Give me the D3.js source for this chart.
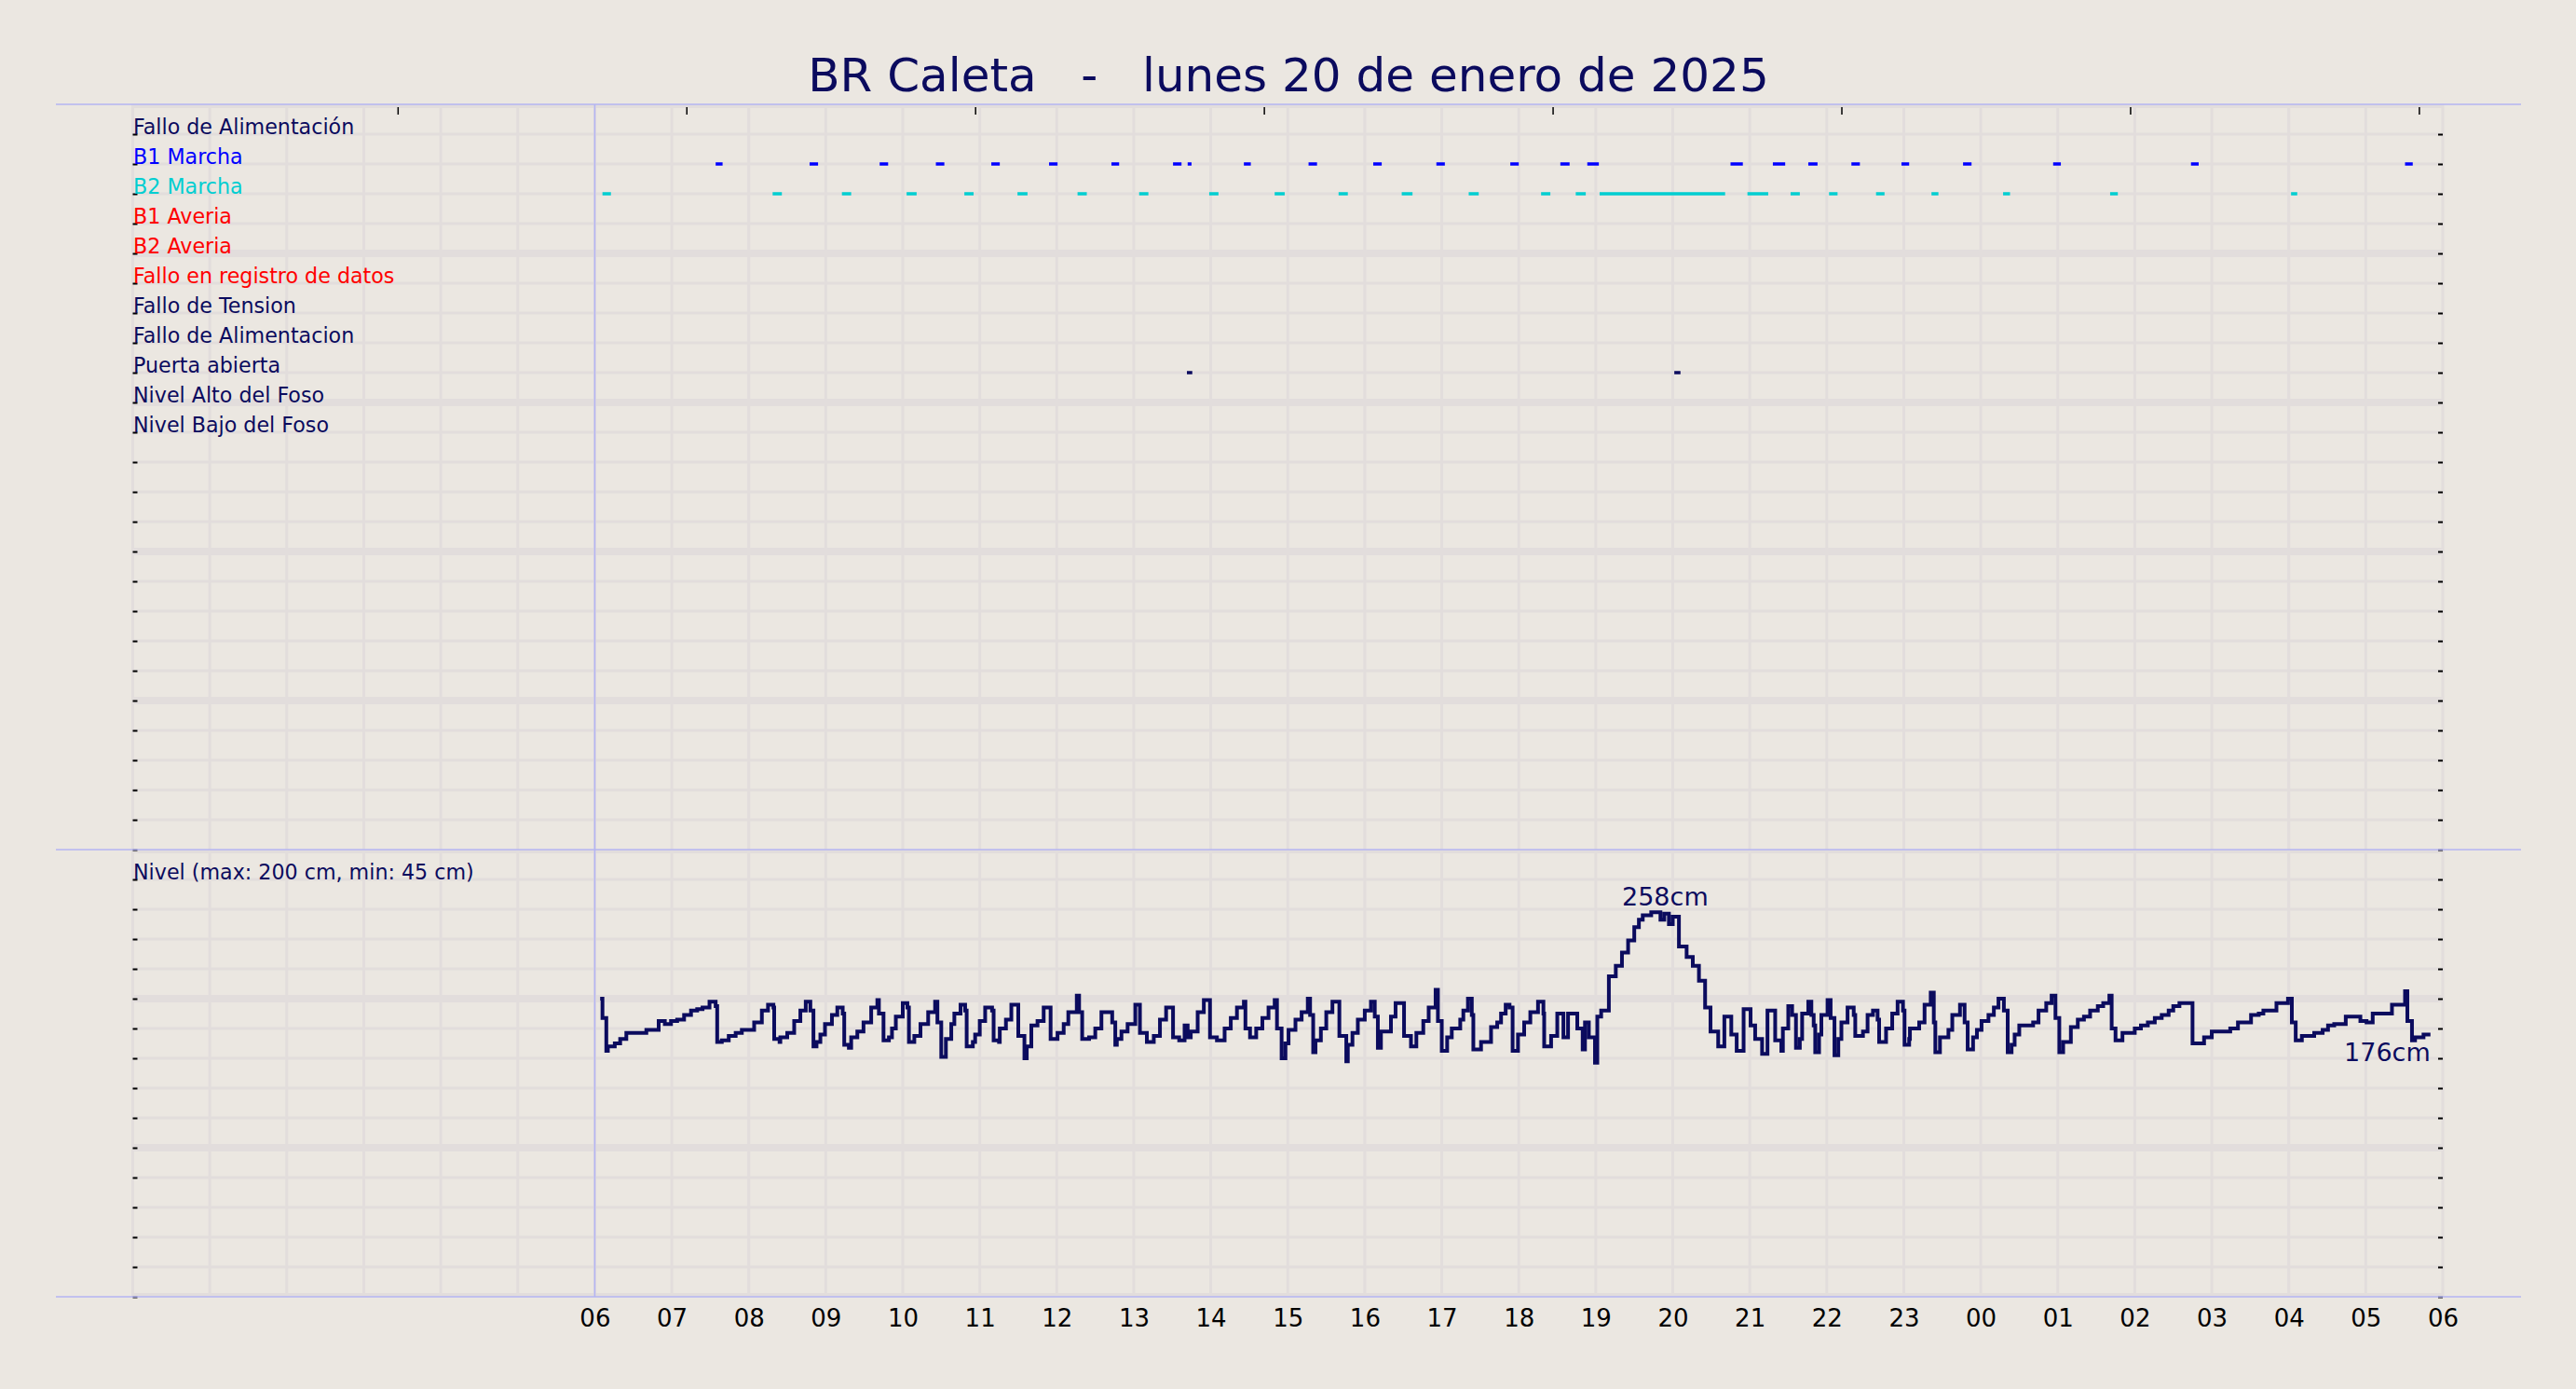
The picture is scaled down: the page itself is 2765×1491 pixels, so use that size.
<!DOCTYPE html>
<html><head><meta charset="utf-8">
<script src="https://cdn.jsdelivr.net/npm/d3@7"></script>
<style>
html,body{margin:0;padding:0;background:#ebe7e1;}
svg{display:block;font-family:"DejaVu Sans",sans-serif;}
</style></head><body>
<svg id="chart" width="2765" height="1491"></svg>
<script>
// ---------------- DATA ----------------
const chartTitle = "BR Caleta   -   lunes 20 de enero de 2025";
const rowLabels = ["Fallo de Alimentación","B1 Marcha","B2 Marcha","B1 Averia","B2 Averia",
  "Fallo en registro de datos","Fallo de Tension","Fallo de Alimentacion","Puerta abierta",
  "Nivel Alto del Foso","Nivel Bajo del Foso"];
const rowColors = ["#0b0b5e","#0000ff","#00ced1","#ff0000","#ff0000","#ff0000",
  "#0b0b5e","#0b0b5e","#0b0b5e","#0b0b5e","#0b0b5e"];
const hourTicks = d3.range(6, 31);
const hourLabels = ["06","07","08","09","10","11","12","13","14","15","16","17","18","19","20",
  "21","22","23","00","01","02","03","04","05","06"];
const topTickHours = [3.44,7.19,10.94,14.69,18.44,22.19,25.94,29.69];
// events: [start, end] in hours since 00:00 of 20/01/2025
const b1Marcha = [[7.57,7.66],[8.79,8.90],[9.70,9.81],[10.43,10.54],[11.15,11.26],[11.90,12.01],
  [12.71,12.81],[13.51,13.62],[13.70,13.75],[14.43,14.52],[15.27,15.38],[16.11,16.22],[16.93,17.04],
  [17.89,18.00],[18.54,18.66],[18.89,19.04],[20.75,20.91],[21.30,21.46],[21.76,21.88],[22.32,22.43],
  [22.97,23.07],[23.77,23.88],[24.94,25.04],[26.73,26.83],[29.51,29.61]];
const b2Marcha = [[6.10,6.21],[8.31,8.43],[9.21,9.33],[10.05,10.18],[10.80,10.92],[11.49,11.62],
  [12.27,12.39],[13.07,13.19],[13.98,14.10],[14.83,14.96],[15.66,15.78],[16.48,16.62],[17.35,17.48],
  [18.29,18.41],[18.74,18.87],[19.05,20.68],[20.97,21.24],[21.53,21.65],[22.03,22.14],[22.64,22.75],
  [23.36,23.45],[24.29,24.38],[25.68,25.78],[28.03,28.11]];
const puertaAbierta = [[13.69,13.76],[20.02,20.10]];
const nivelLabel = "Nivel (max: 200 cm, min: 45 cm)";
const levelHours = [6.07,6.10,6.15,6.17,6.26,6.33,6.41,6.67,6.83,6.91,6.99,7.07,7.16,7.25,7.33,7.40,7.49,7.57,7.59,7.65,
 7.74,7.83,7.91,8.07,8.17,8.25,8.32,8.33,8.40,8.41,8.50,8.59,8.67,8.74,8.80,8.84,8.88,8.93,8.99,9.08,
 9.15,9.22,9.24,9.30,9.33,9.41,9.49,9.59,9.67,9.69,9.75,9.82,9.86,9.91,10.00,10.06,10.08,10.15,10.23,10.33,
 10.42,10.45,10.50,10.56,10.63,10.67,10.75,10.81,10.83,10.91,10.94,11.00,11.07,11.16,11.18,11.25,11.26,11.34,11.41,11.50,
 11.58,11.61,11.67,11.75,11.83,11.92,12.01,12.09,12.15,12.26,12.29,12.33,12.42,12.50,12.58,12.72,12.76,12.78,12.84,12.92,
 13.02,13.08,13.17,13.26,13.34,13.42,13.51,13.59,13.66,13.70,13.74,13.83,13.91,13.99,14.08,14.18,14.26,14.34,14.43,14.45,
 14.51,14.59,14.67,14.75,14.83,14.86,14.92,14.97,15.01,15.10,15.18,15.26,15.29,15.33,15.36,15.43,15.50,15.58,15.67,15.76,
 15.78,15.84,15.91,16.00,16.08,16.13,16.17,16.21,16.34,16.40,16.51,16.60,16.67,16.76,16.83,16.92,16.95,17.00,17.07,17.13,
 17.24,17.28,17.34,17.39,17.41,17.51,17.64,17.72,17.77,17.83,17.88,17.92,17.99,18.07,18.15,18.25,18.32,18.33,18.42,18.50,
 18.58,18.64,18.76,18.83,18.86,18.91,18.99,19.02,19.07,19.17,19.26,19.34,19.42,19.50,19.56,19.61,19.72,19.84,19.89,19.95,
 20.00,20.08,20.18,20.26,20.34,20.42,20.49,20.59,20.67,20.76,20.83,20.92,21.01,21.07,21.16,21.23,21.33,21.41,21.43,21.50,
 21.55,21.60,21.65,21.68,21.76,21.80,21.83,21.85,21.90,21.93,22.01,22.05,22.10,22.15,22.19,22.27,22.35,22.37,22.47,22.53,
 22.60,22.66,22.68,22.77,22.85,22.92,22.99,23.01,23.07,23.08,23.20,23.27,23.35,23.39,23.41,23.47,23.58,23.63,23.73,23.79,
 23.83,23.90,23.95,24.01,24.10,24.17,24.23,24.30,24.35,24.40,24.44,24.50,24.68,24.75,24.85,24.92,24.97,25.02,25.07,25.17,
 25.26,25.34,25.42,25.52,25.59,25.67,25.70,25.75,25.84,26.00,26.08,26.17,26.26,26.35,26.44,26.50,26.58,26.75,26.90,27.00,
 27.24,27.34,27.51,27.61,27.67,27.84,27.99,28.04,28.09,28.17,28.33,28.44,28.51,28.59,28.74,28.93,29.01,29.09,29.34,29.51,
 29.54,29.60,29.64,29.75,29.84];
const levelCm = [200,187,165,168,170,173,177,179,185,183,185,186,189,192,193,194,198,195,171,172,
 175,177,179,184,192,196,194,173,171,174,177,185,192,198,192,168,171,176,183,189,
 194,190,169,167,174,178,184,194,199,190,172,174,180,188,197,194,171,175,183,191,
 198,184,161,173,183,190,196,192,168,171,176,185,194,192,172,171,180,186,196,175,
 160,168,182,185,194,173,177,183,191,202,191,173,174,180,191,184,169,173,178,183,
 196,177,171,175,186,194,174,172,182,174,178,191,199,174,172,180,187,194,198,180,
 174,180,187,194,199,180,160,170,179,186,191,200,189,164,172,180,191,198,175,158,
 169,177,186,192,198,188,167,178,188,197,175,168,177,185,194,206,185,165,174,180,
 186,192,200,189,166,171,181,184,190,196,194,165,176,184,191,198,190,168,175,190,
 174,190,180,166,184,174,157,188,192,215,222,231,239,248,253,256,258,253,257,250,
 255,235,228,222,212,194,178,168,188,176,165,193,182,173,163,192,172,165,180,195,
 189,167,173,190,198,189,182,164,176,189,199,187,162,173,184,194,189,175,178,189,
 192,186,171,180,190,198,192,169,173,180,184,196,204,184,164,174,179,189,196,184,
 166,174,179,185,189,194,200,192,164,169,176,182,184,192,197,202,187,164,171,181,
 186,188,192,195,197,202,180,172,177,180,182,184,187,189,192,195,197,170,174,178,
 180,184,189,190,192,197,200,184,172,175,177,179,182,183,188,185,184,190,196,205,
 185,172,174,176,176];

// ---------------- LAYOUT ----------------
const W = 2765, H = 1491;
const BG = "#ebe7e1", GRID = "#e2dddc", EDGE = "#b4b4f2", NAVY = "#0b0b5e";
const svg = d3.select("#chart");
svg.append("rect").attr("width", W).attr("height", H).attr("fill", BG);

const x = d3.scaleLinear().domain([0, 30]).range([142.5, 2622]);
const yRow = d3.scaleLinear().domain([0, 25]).range([112, 912]);
const yLev = d3.scaleLinear().domain([0, 300]).range([1392, 912]);

const defs = svg.append("defs");
defs.append("clipPath").attr("id", "clipTop").append("rect")
  .attr("x", x(0) - 2).attr("y", yRow(0)).attr("width", x(30) - x(0) + 4).attr("height", yRow(25) - yRow(0));
defs.append("clipPath").attr("id", "clipBot").append("rect")
  .attr("x", x(0) - 2).attr("y", yLev(300)).attr("width", x(30) - x(0) + 4).attr("height", yLev(0) - yLev(300));

// vertical grid
const grid = svg.append("g");
grid.selectAll("line.v").data(d3.range(0, 31)).join("line")
  .attr("x1", d => x(d)).attr("x2", d => x(d))
  .attr("y1", yRow(0)).attr("y2", yLev(0))
  .attr("stroke", GRID).attr("stroke-width", 3);
// horizontal grid – top panel
grid.append("g").attr("clip-path", "url(#clipTop)")
  .selectAll("line").data(d3.range(0, 25)).join("line")
  .attr("x1", x(0)).attr("x2", x(30))
  .attr("y1", d => yRow(d)).attr("y2", d => yRow(d))
  .attr("stroke", GRID).attr("stroke-width", d => d % 5 === 0 ? 8 : 3);
// horizontal grid – bottom panel
grid.append("g").attr("clip-path", "url(#clipBot)")
  .selectAll("line").data(d3.range(0, 301, 20)).join("line")
  .attr("x1", x(0)).attr("x2", x(30))
  .attr("y1", d => yLev(d)).attr("y2", d => yLev(d))
  .attr("stroke", GRID).attr("stroke-width", d => d % 100 === 0 ? 8 : 3);

// y ticks (both sides, inward)
function ticks(g) { g.select(".domain").remove(); g.selectAll("line").attr("stroke", "#000").attr("stroke-width", 2); }
svg.append("g").attr("transform", `translate(${x(0)},0)`)
  .call(d3.axisRight(yRow).tickValues(d3.range(1, 25)).tickSize(5).tickFormat("")).call(ticks);
svg.append("g").attr("transform", `translate(${x(30)},0)`)
  .call(d3.axisLeft(yRow).tickValues(d3.range(1, 25)).tickSize(5).tickFormat("")).call(ticks);
svg.append("g").attr("transform", `translate(${x(0)},0)`)
  .call(d3.axisRight(yLev).tickValues(d3.range(0, 301, 20)).tickSize(5).tickFormat("")).call(ticks);
svg.append("g").attr("transform", `translate(${x(30)},0)`)
  .call(d3.axisLeft(yLev).tickValues(d3.range(0, 301, 20)).tickSize(5).tickFormat("")).call(ticks);
// top ticks
svg.append("g").attr("transform", `translate(0,${yRow(0) + 3})`)
  .call(d3.axisBottom(x).tickValues(topTickHours).tickSize(8).tickFormat(""))
  .call(g => { g.select(".domain").remove(); g.selectAll("line").attr("stroke", "#000").attr("stroke-width", 1.5); });

// edge lines
const edges = svg.append("g").attr("stroke", EDGE).attr("stroke-width", 1.6);
[yRow(0), yRow(25), yLev(0)].forEach(yy =>
  edges.append("line").attr("x1", 60).attr("x2", 2706).attr("y1", yy).attr("y2", yy));
edges.append("line").attr("x1", x(6)).attr("x2", x(6)).attr("y1", yRow(0)).attr("y2", yLev(0));

// row labels
svg.append("g").selectAll("text").data(rowLabels).join("text")
  .attr("x", x(0) + 0.5).attr("y", (d, i) => yRow(i + 1) - 0.5)
  .attr("font-size", 22.2).attr("fill", (d, i) => rowColors[i]).text(d => d);

// event marks
const events = [
  { row: 1, data: b1Marcha, color: "#0000ff" },
  { row: 2, data: b2Marcha, color: "#00ced1" },
  { row: 8, data: puertaAbierta, color: NAVY }
];
const evG = svg.append("g").attr("clip-path", "url(#clipTop)");
events.forEach(ev => {
  evG.append("g").selectAll("line").data(ev.data).join("line")
    .attr("x1", d => x(d[0])).attr("x2", d => x(d[1]))
    .attr("y1", yRow(ev.row + 1)).attr("y2", yRow(ev.row + 1))
    .attr("stroke", ev.color).attr("stroke-width", 3.5);
});

// level panel label
svg.append("text").attr("x", x(0) + 0.5).attr("y", yLev(280) - 0.5)
  .attr("font-size", 22.2).attr("fill", NAVY).text(nivelLabel);

// level line
const levelData = levelHours.map((h, i) => [h, levelCm[i]]);
const line = d3.line().x(d => x(d[0])).y(d => yLev(d[1])).curve(d3.curveStepAfter);
svg.append("path").attr("clip-path", "url(#clipBot)").datum(levelData)
  .attr("d", line).attr("fill", "none").attr("stroke", NAVY).attr("stroke-width", 4)
  .attr("stroke-linejoin", "miter");

// annotations
const maxIdx = d3.maxIndex(levelData, d => d[1]);
const maxPt = levelData[maxIdx];
const lastPt = levelData[levelData.length - 1];
svg.append("text").attr("x", x(maxPt[0]) + 15).attr("y", yLev(maxPt[1]) - 7)
  .attr("text-anchor", "middle").attr("font-size", 27).attr("fill", NAVY).text(`${maxPt[1]}cm`);
svg.append("text").attr("x", x(lastPt[0])).attr("y", yLev(lastPt[1]) + 29)
  .attr("text-anchor", "end").attr("font-size", 27).attr("fill", NAVY).text(`${lastPt[1]}cm`);

// x axis labels
svg.append("g").attr("transform", `translate(0,${yLev(0)})`)
  .call(d3.axisBottom(x).tickValues(hourTicks).tickFormat((d, i) => hourLabels[i]).tickSize(0).tickPadding(14))
  .call(g => {
    g.select(".domain").remove();
    g.selectAll("text").attr("font-size", 26).attr("fill", "#000").attr("font-family", '"DejaVu Sans",sans-serif');
  });

// title
svg.append("text").attr("x", 1383).attr("y", 98).attr("text-anchor", "middle")
  .attr("font-size", 50).attr("fill", NAVY).style("white-space", "pre").text(chartTitle);
</script>
</body></html>
